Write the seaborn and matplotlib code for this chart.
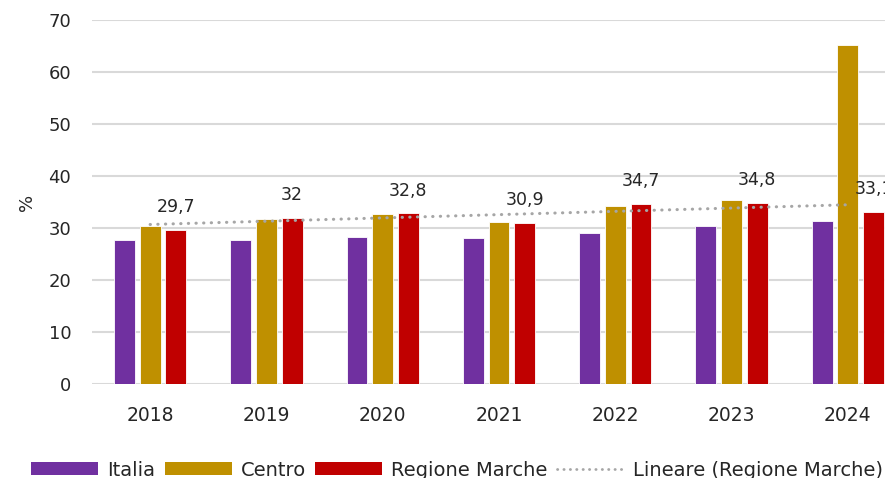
import numpy as np
import pandas as pd
import matplotlib
matplotlib.use("Agg")
import matplotlib.pyplot as plt
import seaborn as sns
from matplotlib.patches import Patch
from matplotlib.lines import Line2D

years = ["2018", "2019", "2020", "2021", "2022", "2023", "2024"]
italia = [27.6, 27.6, 28.3, 28.1, 29.1, 30.3, 31.3]
centro = [30.3, 31.8, 32.6, 31.1, 34.3, 35.3, 65.1]
marche = [29.7, 32.0, 32.8, 30.9, 34.7, 34.8, 33.1]
marche_labels = ["29,7", "32", "32,8", "30,9", "34,7", "34,8", "33,1"]
series_names = ["Italia", "Centro", "Regione Marche"]
trend_name = "Lineare (Regione Marche)"
colors = ["#7030A0", "#BF9000", "#C00000"]

df = pd.DataFrame({
    "Anno": years * 3,
    "Serie": [series_names[0]] * 7 + [series_names[1]] * 7 + [series_names[2]] * 7,
    "Valore": italia + centro + marche,
})

sns.set_theme(style="white")
plt.rcParams["font.family"] = ["DejaVu Sans"]

fig = plt.figure(figsize=(8.85, 4.78), dpi=100)
ax = fig.add_axes([92 / 885, (478 - 384) / 478, (906 - 92) / 885, 364 / 478])

sns.barplot(data=df, x="Anno", y="Valore", hue="Serie", hue_order=series_names,
            palette=colors, width=0.663, gap=0.19, ax=ax, legend=False,
            edgecolor="white", linewidth=0.6, saturation=1)

# linear trendline for Regione Marche
xs = np.arange(len(years))
coef = np.polyfit(xs, marche, 1)
trend = np.polyval(coef, xs)
ax.plot(xs, trend, color="#A6A6A6", linewidth=2.2,
        linestyle=(0, (0.1, 2.4)), dash_capstyle="round", zorder=3)

# data labels for Regione Marche
marche_container = ax.containers[2]
for bar, lab in zip(marche_container, marche_labels):
    cx = bar.get_x() + bar.get_width() / 2
    top = bar.get_height()
    ax.annotate(lab, (cx, top), xytext=(0, 16.5), textcoords="offset points",
                ha="center", va="center", fontsize=12.5, color="#262626",
                annotation_clip=False)

ax.set_ylim(0, 70)
ax.set_yticks(range(0, 71, 10))
ax.set_xlim(-0.5, len(years) - 0.5)
ax.yaxis.grid(True, color="#D9D9D9", linewidth=1.5)
ax.set_axisbelow(True)
for s in ax.spines.values():
    s.set_visible(False)
ax.tick_params(axis="y", length=0, pad=15, labelsize=13, labelcolor="#262626")
ax.tick_params(axis="x", length=0, pad=16, labelsize=13.5, labelcolor="#262626")
ax.set_xlabel("")
ax.set_ylabel("%", fontsize=13, color="#262626", labelpad=9)

handles = [Patch(facecolor=c, edgecolor="none") for c in colors]
handles.append(Line2D([0], [0], color="#A6A6A6", linewidth=2.0,
                      linestyle=(0, (0.1, 2.2)), dash_capstyle="round"))
leg = fig.legend(handles, series_names + [trend_name], loc="center left",
                 bbox_to_anchor=(31 / 885, (478 - 470) / 478), ncol=4,
                 frameon=False, fontsize=14, handlelength=3.45, handleheight=0.62,
                 handletextpad=0.45, columnspacing=0.5, borderpad=0, borderaxespad=0)
for t in leg.get_texts():
    t.set_color("#262626")

fig.savefig("out.png", dpi=100)
